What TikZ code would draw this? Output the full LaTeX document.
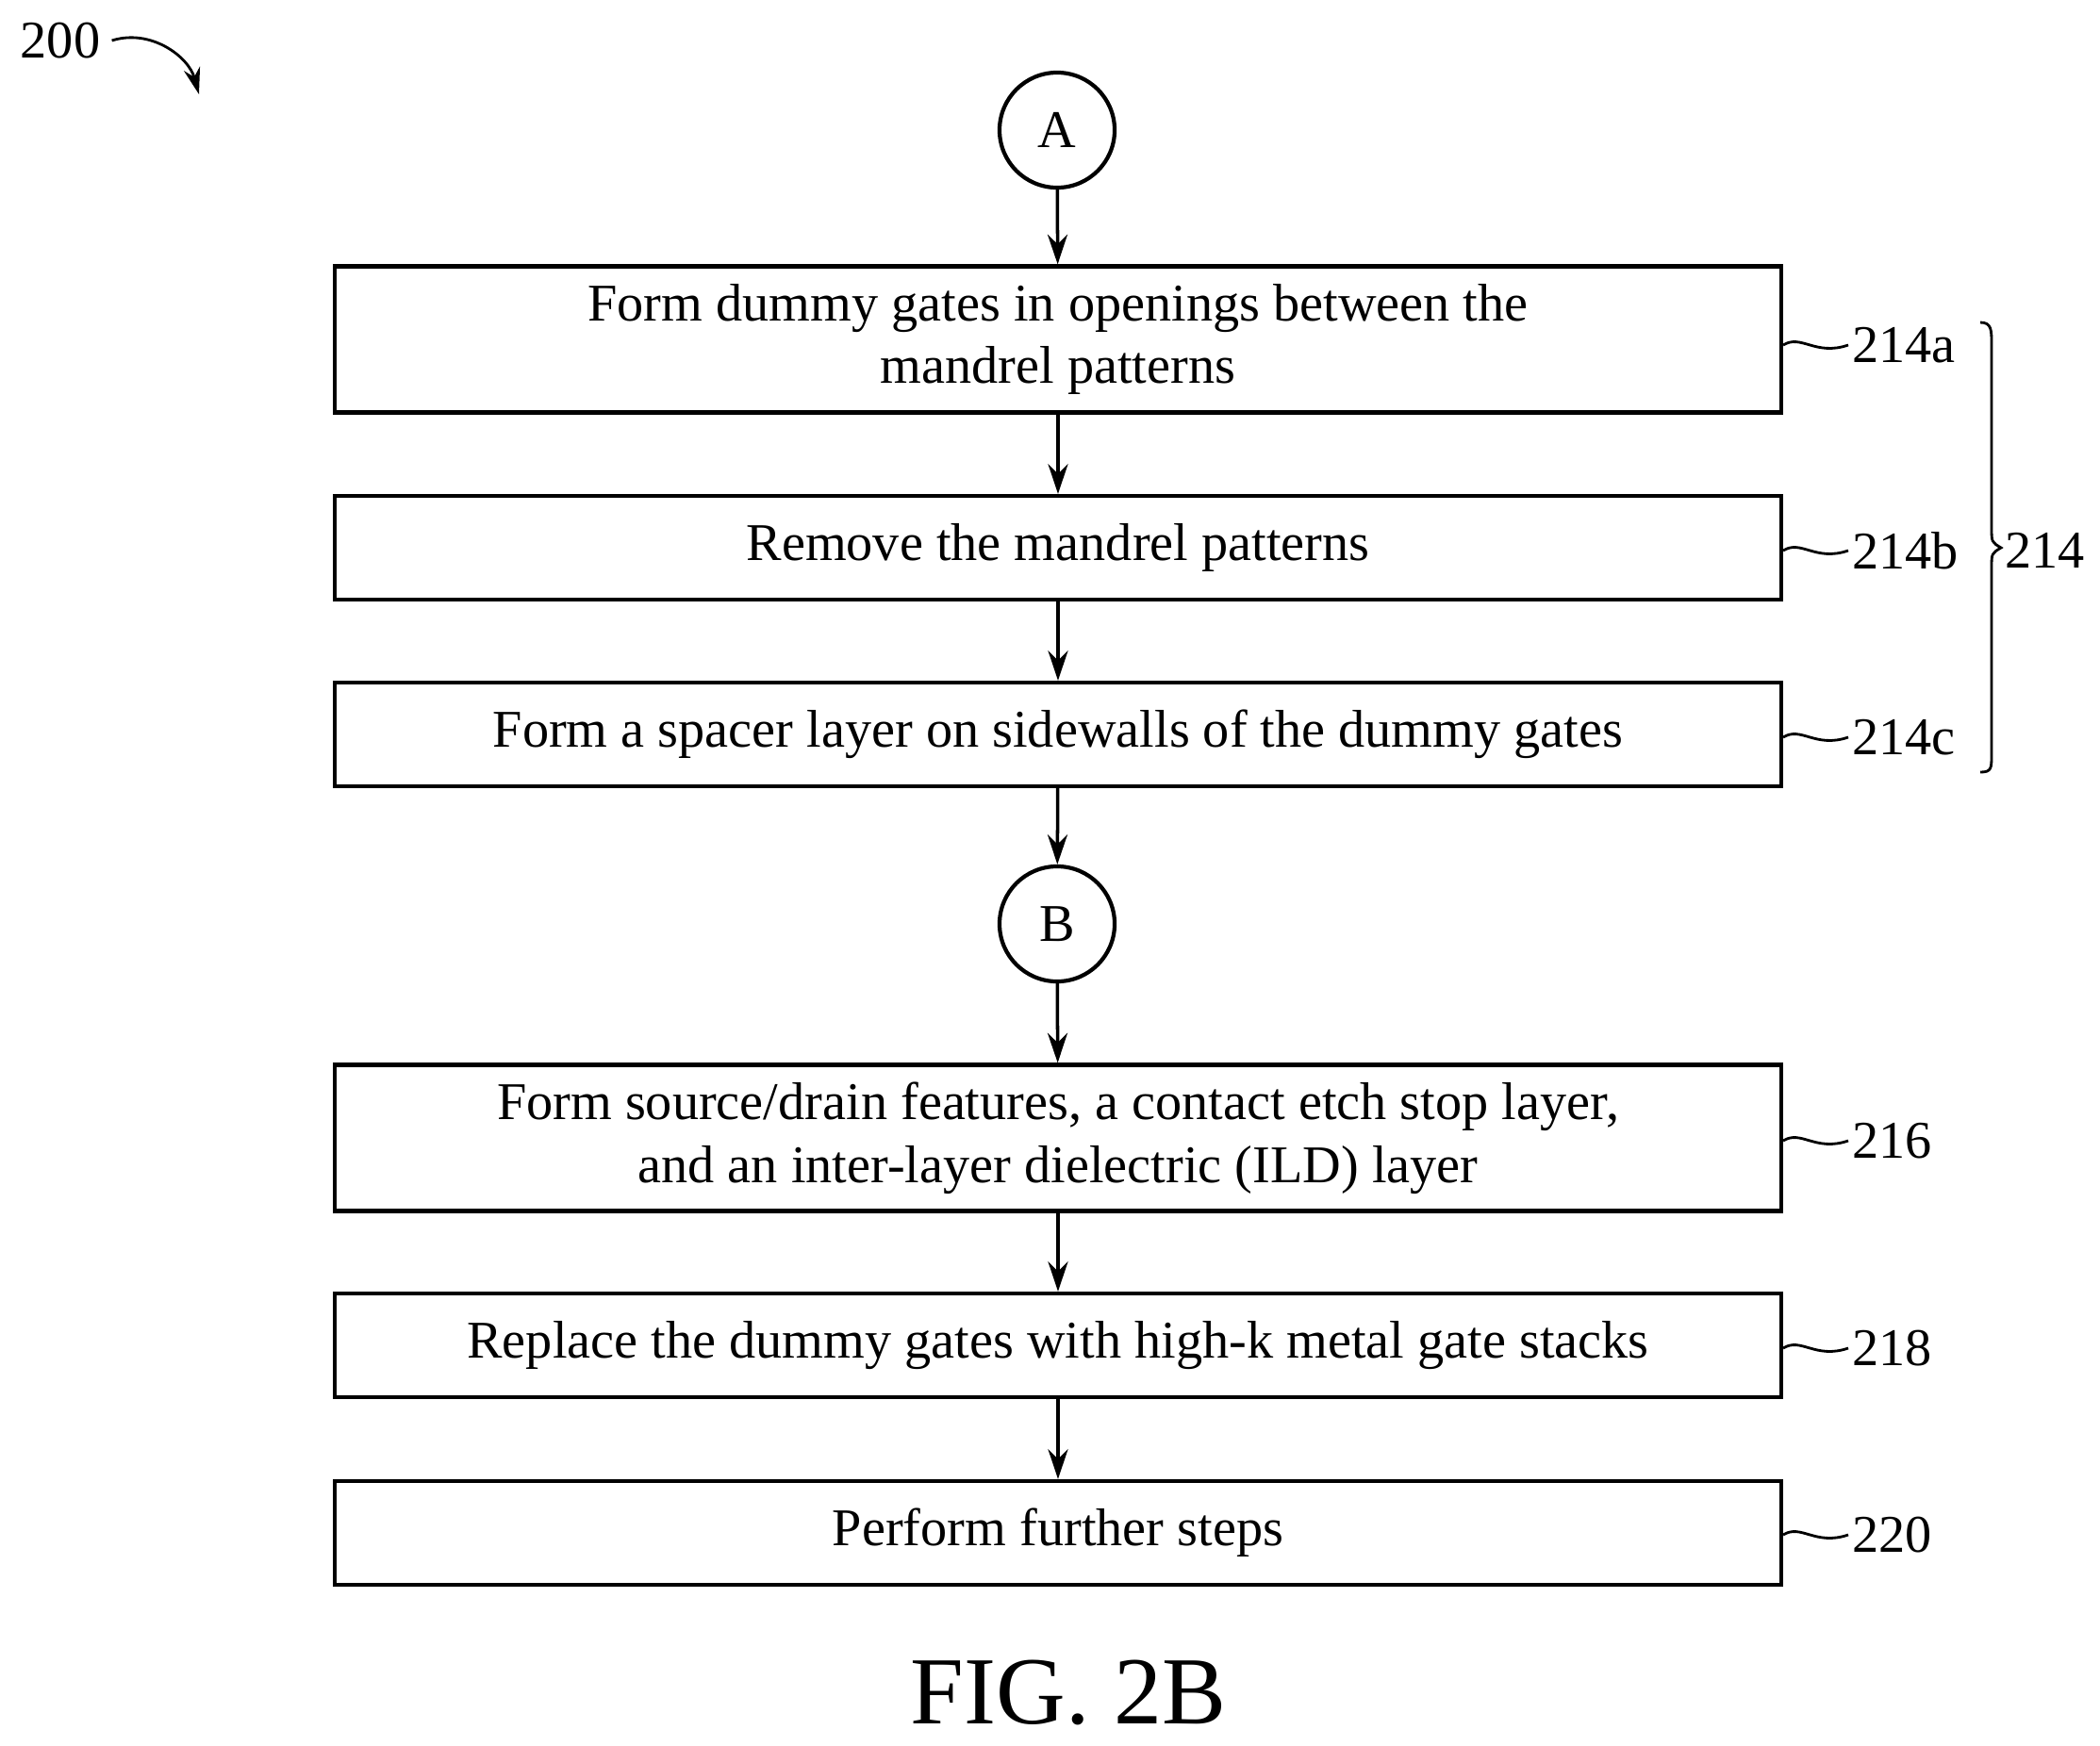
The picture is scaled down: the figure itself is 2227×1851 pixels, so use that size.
\documentclass[tikz,border=0pt]{standalone}
\usepackage{fontspec}
\setmainfont{Liberation Serif}
\usetikzlibrary{arrows.meta,decorations.pathmorphing}
\begin{document}
\begin{tikzpicture}[x=0.01cm,y=-0.01cm,
 box/.style={draw,line width=1.2pt,minimum width=15.33cm,inner sep=0pt,font=\fontsize{16}{19}\selectfont,align=center},
 circ/.style={draw,circle,line width=1.2pt,minimum size=1.22cm,inner sep=0pt,font=\fontsize{16}{19}\selectfont},
 arr/.style={line width=1pt,-{Stealth[length=9pt,width=6pt]}},
 lab/.style={font=\fontsize{16}{19}\selectfont,anchor=west,inner sep=1pt},
 sq/.style={line width=0.8pt}]
\useasboundingbox (0,0) rectangle (2227,1851);
\node[circ] (A) at (1121,138) {A};
\node[box,minimum height=1.55cm] (b1) at (1122,360) {Form dummy gates in openings between the\\mandrel patterns};
\node[box,minimum height=1.10cm] (b2) at (1122,581) {Remove the mandrel patterns};
\node[box,minimum height=1.10cm] (b3) at (1122,779) {Form a spacer layer on sidewalls of the dummy gates};
\node[circ] (B) at (1121,980) {B};
\node[box,minimum height=1.55cm] (b4) at (1122,1207) {Form source/drain features, a contact etch stop layer,\\and an inter-layer dielectric (ILD) layer};
\node[box,minimum height=1.10cm] (b5) at (1122,1427) {Replace the dummy gates with high-k metal gate stacks};
\node[box,minimum height=1.10cm] (b6) at (1122,1626) {Perform further steps};
\foreach \a/\b in {A/b1,b1/b2,b2/b3,b3/B,B/b4,b4/b5,b5/b6} \draw[arr] (\a) -- (\b);
\foreach \n/\y/\t in {b1/366/214a,b2/584/214b,b3/782/214c,b4/1210/216,b5/1430/218,b6/1628/220}{
 \coordinate (s\n) at (1960,\y);
 \draw[sq] (b1.east |- s\n) .. controls (1910,\y-12) and (1925,\y+12) .. (s\n);
 \node[lab] (l\n) at (s\n) {\t};}
\draw[sq] (2100,342) .. controls (2112,342) and (2112,350) .. (2112,365) -- (2112,560) .. controls (2112,575) .. (2122,581) .. controls (2112,587) .. (2112,602) -- (2112,800) .. controls (2112,815) and (2112,819) .. (2100,819);
\node[lab] (l214) at (2122,584) {214};
\node[font=\fontsize{16}{19}\selectfont] (n200) at (64,43) {200};
\coordinate (e200) at (211,100);
\draw[sq,-{Stealth[length=8pt,width=5pt]}] (n200.east) .. controls (160,30) and (200,60) .. (e200);
\node[font=\fontsize{29}{34}\selectfont] (fig) at (1133,1795) {FIG. 2B};
\end{tikzpicture}
\end{document}
